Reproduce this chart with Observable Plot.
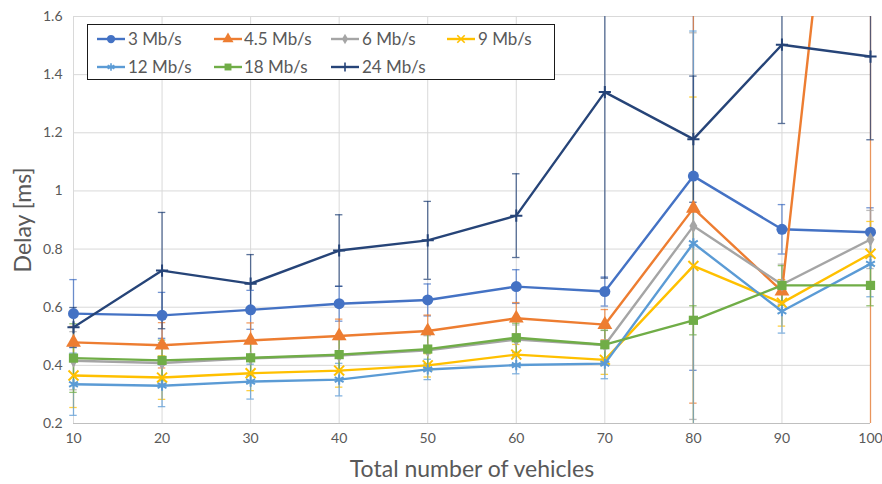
<!DOCTYPE html>
<html><head><meta charset="utf-8">
<script src="https://cdn.jsdelivr.net/npm/d3@7"></script>
<script src="https://cdn.jsdelivr.net/npm/@observablehq/plot@0.6"></script>
<style>
body{margin:0;background:#fff;}
#wrap{position:relative;width:882px;height:484px;font-family:Lato,"Open Sans",sans-serif;color:#595959;overflow:hidden;}
#wrap svg{display:block;}
.title{position:absolute;font-size:23px;color:#595959;white-space:nowrap;}
#xtitle{left:0;width:944px;text-align:center;top:454px;}
#ytitle{left:22px;top:220px;transform:translate(-50%,-50%) rotate(-90deg);}
#legend{position:absolute;left:87px;top:24px;width:466px;height:54px;border:1px solid #1a1a1a;background:#fff;}
.item{position:absolute;font-size:17px;line-height:20px;white-space:nowrap;color:#595959;}
.item svg{position:absolute;}
</style></head><body>
<div id="wrap"></div>
<script>
const vehicles = [10, 20, 30, 40, 50, 60, 70, 80, 90, 100];
const seriesNames = ["3 Mb/s", "4.5 Mb/s", "6 Mb/s", "9 Mb/s", "12 Mb/s", "18 Mb/s", "24 Mb/s"];
const seriesColors = ["#4472C4", "#ED7D31", "#A5A5A5", "#FFC000", "#5B9BD5", "#70AD47", "#264478"];
const seriesSymbols = ["circle", "triangle", "diamond", "times", "asterisk", "square", "plus"];

const delay3  = [0.578, 0.572, 0.591, 0.612, 0.625, 0.671, 0.654, 1.051, 0.868, 0.858];
const delay45 = [0.479, 0.469, 0.486, 0.501, 0.518, 0.562, 0.540, 0.940, 0.655, 3.400];
const delay6  = [0.416, 0.408, 0.424, 0.434, 0.452, 0.489, 0.470, 0.879, 0.678, 0.833];
const delay9  = [0.365, 0.358, 0.373, 0.382, 0.400, 0.437, 0.419, 0.742, 0.615, 0.784];
const delay12 = [0.335, 0.330, 0.344, 0.351, 0.386, 0.401, 0.406, 0.820, 0.586, 0.749];
const delay18 = [0.425, 0.417, 0.426, 0.437, 0.456, 0.495, 0.471, 0.555, 0.675, 0.675];
const delay24 = [0.531, 0.726, 0.681, 0.795, 0.830, 0.915, 1.340, 1.178, 1.503, 1.462];

const err3  = [0.117, 0.079, 0.067, 0.060, 0.055, 0.058, 0.050, 0.668, 0.085, 0.084];
const err45 = [0.055, 0.078, 0.060, 0.058, 0.055, 0.054, 0.052, 0.670, 0.040, 3.300];
const err6  = [0.100, 0.070, 0.060, 0.055, 0.050, 0.050, 0.050, 0.665, 0.070, 0.100];
const err9  = [0.110, 0.075, 0.060, 0.057, 0.040, 0.035, 0.050, 0.581, 0.080, 0.111];
const err12 = [0.107, 0.072, 0.060, 0.056, 0.035, 0.030, 0.052, 0.730, 0.075, 0.113];
const err18 = [0.118, 0.070, 0.060, 0.055, 0.050, 0.050, 0.050, 0.050, 0.068, 0.070];
const err24 = [0.068, 0.200, 0.100, 0.123, 0.134, 0.144, 0.640, 0.217, 0.271, 0.286];

const yTicks = [0.2, 0.4, 0.6, 0.8, 1.0, 1.2, 1.4, 1.6];
const yTickLabels = ["0.2", "0.4", "0.6", "0.8", "1", "1.2", "1.4", "1.6"];
const xTicks = [10, 20, 30, 40, 50, 60, 70, 80, 90, 100];
const xTickLabels = ["10", "20", "30", "40", "50", "60", "70", "80", "90", "100"];

const allDelays = [delay3, delay45, delay6, delay9, delay12, delay18, delay24];
const allErrs = [err3, err45, err6, err9, err12, err18, err24];
const yMin = yTicks[0], yMax = yTicks[yTicks.length - 1];

const rows = [];
seriesNames.forEach((s, i) => {
  vehicles.forEach((v, j) => rows.push({series: s, idx: i, x: v, y: allDelays[i][j], e: allErrs[i][j]}));
});

const marks = [
  Plot.gridY(yTicks, {stroke: "#d9d9d9", strokeOpacity: 1}),
  Plot.gridX(xTicks, {stroke: "#d9d9d9", strokeOpacity: 1}),
  Plot.ruleY([yMin], {stroke: "#bfbfbf"}),
  Plot.axisY(yTicks, {tickSize: 0, tickPadding: 11, tickFormat: d => yTickLabels[yTicks.indexOf(d)], fontSize: 14, fill: "#595959", label: null}),
  Plot.axisX(xTicks, {tickSize: 0, tickPadding: 10, tickFormat: d => xTickLabels[xTicks.indexOf(d)], fontSize: 14, fill: "#595959", label: null})
];

// error bars (clamped to the visible range)
const ebStyle = (i) => ({stroke: seriesColors[i], strokeWidth: 1.3, strokeOpacity: 0.75});
seriesNames.forEach((s, i) => {
  const d = rows.filter(r => r.idx === i);
  marks.push(Plot.ruleX(d, {x: "x", y1: r => Math.max(r.y - r.e, yMin), y2: r => Math.min(r.y + r.e, yMax), ...ebStyle(i)}));
  const lo = d.filter(r => r.y - r.e >= yMin && r.y - r.e <= yMax);
  const hi = d.filter(r => r.y + r.e <= yMax && r.y + r.e >= yMin);
  marks.push(Plot.ruleY(lo, {y: r => r.y - r.e, x1: r => r.x - 0.42, x2: r => r.x + 0.42, ...ebStyle(i)}));
  marks.push(Plot.ruleY(hi, {y: r => r.y + r.e, x1: r => r.x - 0.42, x2: r => r.x + 0.42, ...ebStyle(i)}));
});

const symR = {circle: 5.5, triangle: 5.5, diamond: 4.2, times: 4.6, asterisk: 4.8, square: 5.2, plus: 4};
const stroked = new Set(["times", "asterisk", "plus"]);

seriesNames.forEach((s, i) => {
  const d = rows.filter(r => r.idx === i);
  marks.push(Plot.line(d, {x: "x", y: "y", stroke: seriesColors[i], strokeWidth: 2.4, clip: true}));
  const sym = seriesSymbols[i];
  const vis = d.filter(r => r.y >= yMin && r.y <= yMax);
  if (stroked.has(sym)) {
    marks.push(Plot.dot(vis, {x: "x", y: "y", symbol: () => sym, r: symR[sym], stroke: seriesColors[i], strokeWidth: 2, fill: "none"}));
  } else {
    marks.push(Plot.dot(vis, {x: "x", y: "y", symbol: () => sym, r: symR[sym], fill: seriesColors[i], stroke: "none"}));
  }
});

const chart = Plot.plot({
  width: 882,
  height: 484,
  marginLeft: 73,
  marginRight: 12,
  marginTop: 16,
  marginBottom: 61,
  style: {fontFamily: "Lato, 'Open Sans', sans-serif", background: "#fff"},
  x: {domain: [10, 100]},
  y: {domain: [yMin, yMax]},
  symbol: {type: "identity"},
  marks
});

const wrap = document.getElementById("wrap");
wrap.appendChild(chart);

const xt = document.createElement("div"); xt.className = "title"; xt.id = "xtitle"; xt.textContent = "Total number of vehicles"; wrap.appendChild(xt);
const yt = document.createElement("div"); yt.className = "title"; yt.id = "ytitle"; yt.textContent = "Delay [ms]"; wrap.appendChild(yt);

// legend
const legend = document.createElement("div"); legend.id = "legend"; wrap.appendChild(legend);
const colText = [40, 156, 274, 390];
const colLine = [9, 126, 243, 359];
const rowY = [14, 42];
seriesNames.forEach((s, i) => {
  const row = i < 4 ? 0 : 1;
  const col = i < 4 ? i : i - 4;
  const item = document.createElement("div");
  item.className = "item";
  item.style.left = colText[col] + "px";
  item.style.top = (rowY[row] - 10) + "px";
  item.textContent = s;
  legend.appendChild(item);
  const ns = "http://www.w3.org/2000/svg";
  const sv = document.createElementNS(ns, "svg");
  sv.setAttribute("width", 30); sv.setAttribute("height", 14);
  sv.style.position = "absolute";
  sv.style.left = (colLine[col] - 1) + "px";
  sv.style.top = (rowY[row] - 7) + "px";
  const ln = document.createElementNS(ns, "line");
  ln.setAttribute("x1", 1); ln.setAttribute("x2", 29); ln.setAttribute("y1", 7); ln.setAttribute("y2", 7);
  ln.setAttribute("stroke", seriesColors[i]); ln.setAttribute("stroke-width", 2.4);
  sv.appendChild(ln);
  const symMap = {circle: d3.symbolCircle, triangle: d3.symbolTriangle, diamond: d3.symbolDiamond, times: d3.symbolTimes, asterisk: d3.symbolAsterisk, square: d3.symbolSquare, plus: d3.symbolPlus};
  const sym = seriesSymbols[i];
  const p = document.createElementNS(ns, "path");
  const rr = symR[sym] * 0.75;
  p.setAttribute("d", d3.symbol(symMap[sym], Math.PI * rr * rr)());
  p.setAttribute("transform", "translate(15,7)");
  if (stroked.has(sym)) { p.setAttribute("fill", "none"); p.setAttribute("stroke", seriesColors[i]); p.setAttribute("stroke-width", 1.6); }
  else { p.setAttribute("fill", seriesColors[i]); }
  sv.appendChild(p);
  legend.appendChild(sv);
});
</script>
</body></html>
